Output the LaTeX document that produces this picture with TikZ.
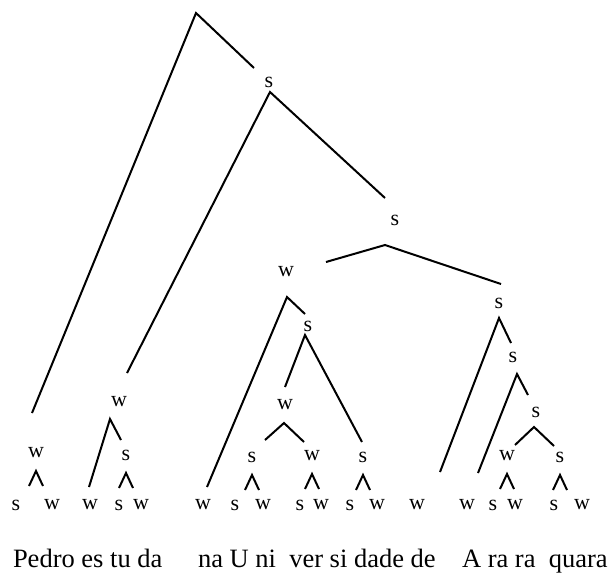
\documentclass[tikz,border=0pt]{standalone}
\usepackage{fontspec}
\setmainfont{Liberation Serif}
\begin{document}
\begin{tikzpicture}[x=1pt, y=-1pt, line width=2pt,
  lab/.style={font=\fontsize{22}{22}\selectfont, inner sep=0pt},
  word/.style={font=\fontsize{26.5}{27}\selectfont, inner sep=0pt, anchor=base west}]
  \useasboundingbox (0,0) rectangle (609,576);

  % s / w labels of the inner nodes
  \node[lab] (s1) at (269,82) {s};
  \node[lab] (s2) at (395,220) {s};
  \node[lab] (w1) at (286,272) {w};
  \node[lab] (s3) at (499,303) {s};
  \node[lab] (s4) at (308,326) {s};
  \node[lab] (s5) at (513,357) {s};
  \node[lab] (w2) at (119,402) {w};
  \node[lab] (w3) at (285,405) {w};
  \node[lab] (s6) at (536,412) {s};
  \node[lab] (w4) at (36,453) {w};
  \node[lab] (s7) at (126,455) {s};
  \node[lab] (s8) at (252,457) {s};
  \node[lab] (w5) at (312,456) {w};
  \node[lab] (s9) at (363,457) {s};
  \node[lab] (w6) at (507,456) {w};
  \node[lab] (s10) at (560,457) {s};

  % bottom row, one label per syllable
  \foreach \x/\t [count=\i] in {16/s,52/w,90/w,119/s,141/w,203/w,235/s,263/w,300/s,
      321/w,350/s,377/w,417/w,467/w,493/s,515/w,554/s,582/w}
    \node[lab] (b\i) at (\x,505) {\t};

  % apexes and free ends of the long branches
  \coordinate (top) at (196,13);   \coordinate (topl) at (32,413);  \coordinate (topr) at (254,68);
  \coordinate (s1a) at (270,92);   \coordinate (s1l) at (127,373);  \coordinate (s1r) at (385,198);
  \coordinate (s2a) at (385,245);  \coordinate (s2l) at (326,262);  \coordinate (s2r) at (501,284);
  \coordinate (w1a) at (287,297);  \coordinate (w1l) at (207,487);  \coordinate (w1r) at (305,314);
  \coordinate (s4a) at (305,335);  \coordinate (s4l) at (285,387);  \coordinate (s4r) at (362,442);
  \coordinate (w3a) at (284,423);  \coordinate (w3l) at (265,440);  \coordinate (w3r) at (304,442);
  \coordinate (s3a) at (499,318);  \coordinate (s3l) at (440,472);  \coordinate (s3r) at (511,343);
  \coordinate (s5a) at (517,374);  \coordinate (s5l) at (478,473);  \coordinate (s5r) at (528,395);
  \coordinate (s6a) at (534,427);  \coordinate (s6l) at (515,445);  \coordinate (s6r) at (554,446);
  \coordinate (w2a) at (110,419);  \coordinate (w2l) at (89,487);   \coordinate (w2r) at (121,440);

  \draw (topl) -- (top) -- (topr);
  \draw (s1l) -- (s1a) -- (s1r);
  \draw (s2l) -- (s2a) -- (s2r);
  \draw (w1l) -- (w1a) -- (w1r);
  \draw (s4l) -- (s4a) -- (s4r);
  \draw (w3l) -- (w3a) -- (w3r);
  \draw (s3l) -- (s3a) -- (s3r);
  \draw (s5l) -- (s5a) -- (s5r);
  \draw (s6l) -- (s6a) -- (s6r);
  \draw (w2l) -- (w2a) -- (w2r);

  % small carets over the last pairs
  \foreach \n in {w4,s7,s8,w5,s9,w6,s10}
    \draw ([shift={(-7,33)}]\n.center) -- ([shift={(0,18)}]\n.center) -- ([shift={(7,33)}]\n.center);

  % the words
  \node[word] (wd1) at (12,567) {Pedro es tu da};
  \node[word] (wd2) at (197,567) {na U ni\ \ ver si dade de};
  \node[word] (wd3) at (461,567) {A ra ra\ \ quara};
\end{tikzpicture}
\end{document}
